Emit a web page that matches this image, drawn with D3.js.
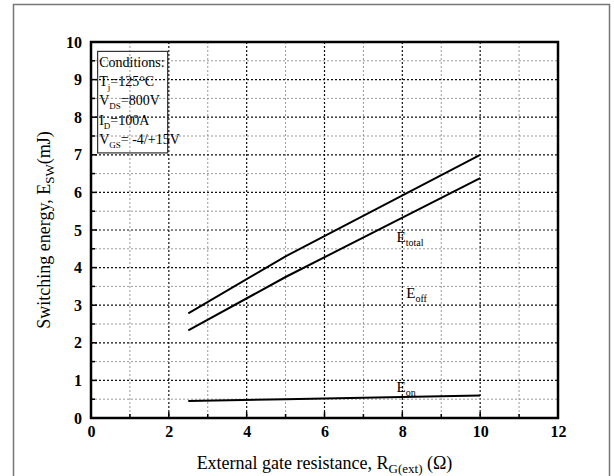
<!DOCTYPE html>
<html>
<head>
<meta charset="utf-8">
<script src="https://cdn.jsdelivr.net/npm/d3@7"></script>
<style>
  body { margin: 0; background: #fff; }
</style>
</head>
<body>
<div id="chart"></div>
<script>
// data
var rg = [2.5, 5, 10];
var eTotal = [2.78, 4.3, 7.0];
var eOff = [2.33, 3.75, 6.38];
var eOn = [0.45, 0.5, 0.6];
var xTicks = [0, 2, 4, 6, 8, 10, 12];
var yTicks = [0, 1, 2, 3, 4, 5, 6, 7, 8, 9, 10];
var conditions = [
  ["Conditions:"],
  ["T", "j", "=125°C"],
  ["V", "DS", "=800V"],
  ["I", "D", "=100A"],
  ["V", "GS", "= -4/+15V"]
];

var serif = "'Liberation Serif', 'Times New Roman', serif";
var W = 614, H = 476;
var margin = {top: 42, right: 56, bottom: 58, left: 91},
    width = W - margin.left - margin.right,
    height = H - margin.top - margin.bottom;

var root = d3.select("#chart").append("svg")
    .attr("width", W)
    .attr("height", H)
    .style("font-family", serif);

// outer frame
root.append("rect")
    .attr("x", 13.5).attr("y", 4.5)
    .attr("width", 596).attr("height", 475)
    .attr("fill", "none")
    .attr("stroke", "#777")
    .attr("stroke-width", 1.5);

var svg = root.append("g")
    .attr("transform", "translate(" + margin.left + "," + margin.top + ")");

var x = d3.scaleLinear().domain([0, 12]).range([0, width]);
var y = d3.scaleLinear().domain([0, 10]).range([height, 0]);

// grid lines
d3.range(1, 12).forEach(function(v) {
  var major = v % 2 === 0;
  svg.append("line")
    .attr("x1", x(v)).attr("x2", x(v))
    .attr("y1", 0).attr("y2", height)
    .attr("stroke", major ? "#111" : "#999")
    .attr("stroke-width", major ? 1.2 : 1)
    .attr("stroke-dasharray", "2,2");
});
d3.range(1, 20).forEach(function(i) {
  var v = i / 2;
  var major = i % 2 === 0;
  svg.append("line")
    .attr("x1", 0).attr("x2", width)
    .attr("y1", y(v)).attr("y2", y(v))
    .attr("stroke", major ? "#111" : "#999")
    .attr("stroke-width", major ? 1.2 : 1)
    .attr("stroke-dasharray", "2,2");
});

// axes
var xAxis = svg.append("g")
    .attr("transform", "translate(0," + height + ")")
    .call(d3.axisBottom(x).tickValues(xTicks).tickSize(0).tickPadding(8).tickFormat(d3.format("d")));
var yAxis = svg.append("g")
    .call(d3.axisLeft(y).tickValues(yTicks).tickSize(0).tickPadding(9).tickFormat(d3.format("d")));
[xAxis, yAxis].forEach(function(a) {
  a.attr("font-family", null).attr("font-size", null);
  a.select(".domain").remove();
  a.selectAll("text")
    .style("font-family", serif)
    .style("font-size", "16px")
    .style("font-weight", "bold")
    .attr("fill", "#000");
});

// inward ticks
d3.range(1, 12).forEach(function(v) {
  svg.append("line")
    .attr("x1", x(v)).attr("x2", x(v))
    .attr("y1", height).attr("y2", height - (v % 2 === 0 ? 6 : 4))
    .attr("stroke", "#000").attr("stroke-width", 1.5);
});
d3.range(1, 20).forEach(function(i) {
  svg.append("line")
    .attr("x1", 0).attr("x2", i % 2 === 0 ? 6 : 4)
    .attr("y1", y(i / 2)).attr("y2", y(i / 2))
    .attr("stroke", "#000").attr("stroke-width", 1.5);
});

// plot frame
svg.append("rect")
    .attr("width", width).attr("height", height)
    .attr("fill", "none")
    .attr("stroke", "#000")
    .attr("stroke-width", 2.5);

// curves
var line = d3.line()
    .x(function(d) { return x(d[0]); })
    .y(function(d) { return y(d[1]); });
[eTotal, eOff, eOn].forEach(function(s) {
  svg.append("path")
    .datum(rg.map(function(r, i) { return [r, s[i]]; }))
    .attr("d", line)
    .attr("fill", "none")
    .attr("stroke", "#000")
    .attr("stroke-width", 2);
});

// curve labels
function subLabel(px, py, main, sub) {
  var t = svg.append("text")
      .attr("x", px).attr("y", py)
      .style("font-size", "15px")
      .attr("fill", "#000");
  t.append("tspan").text(main);
  t.append("tspan").attr("dy", 4).style("font-size", "10px").text(sub);
}
subLabel(x(7.85), y(4.68), "E", "total");
subLabel(x(8.1), y(3.2), "E", "off");
subLabel(x(7.85), y(0.7), "E", "on");

// conditions box
svg.append("rect")
    .attr("x", x(0.17)).attr("y", y(9.75))
    .attr("width", x(1.97) - x(0.17))
    .attr("height", y(7.05) - y(9.75))
    .attr("fill", "none")
    .attr("stroke", "#333")
    .attr("stroke-width", 1.2);
conditions.forEach(function(c, i) {
  var t = svg.append("text")
      .attr("x", x(0.21))
      .attr("y", y(9.34) + i * 19.3)
      .style("font-size", "14px")
      .attr("fill", "#000");
  t.append("tspan").text(c[0]);
  if (c.length > 2) {
    t.append("tspan").attr("dy", 4).style("font-size", "9px").text(c[1]);
    t.append("tspan").attr("dy", -4).text(c[2]);
  }
});

// axis titles
var xt = root.append("text")
    .attr("x", margin.left + width / 2)
    .attr("y", 469)
    .attr("text-anchor", "middle")
    .style("font-size", "18px")
    .attr("fill", "#000");
xt.append("tspan").text("External gate resistance, R");
xt.append("tspan").attr("dy", 4).style("font-size", "13px").text("G(ext)");
xt.append("tspan").attr("dy", -4).text(" (Ω)");

var yt = root.append("text")
    .attr("transform", "translate(50," + (margin.top + height / 2) + ") rotate(-90)")
    .attr("text-anchor", "middle")
    .style("font-size", "18px")
    .attr("fill", "#000");
yt.append("tspan").text("Switching energy, E");
yt.append("tspan").attr("dy", 4).style("font-size", "13px").text("SW");
yt.append("tspan").attr("dy", -4).text("(mJ)");
</script>
</body>
</html>
